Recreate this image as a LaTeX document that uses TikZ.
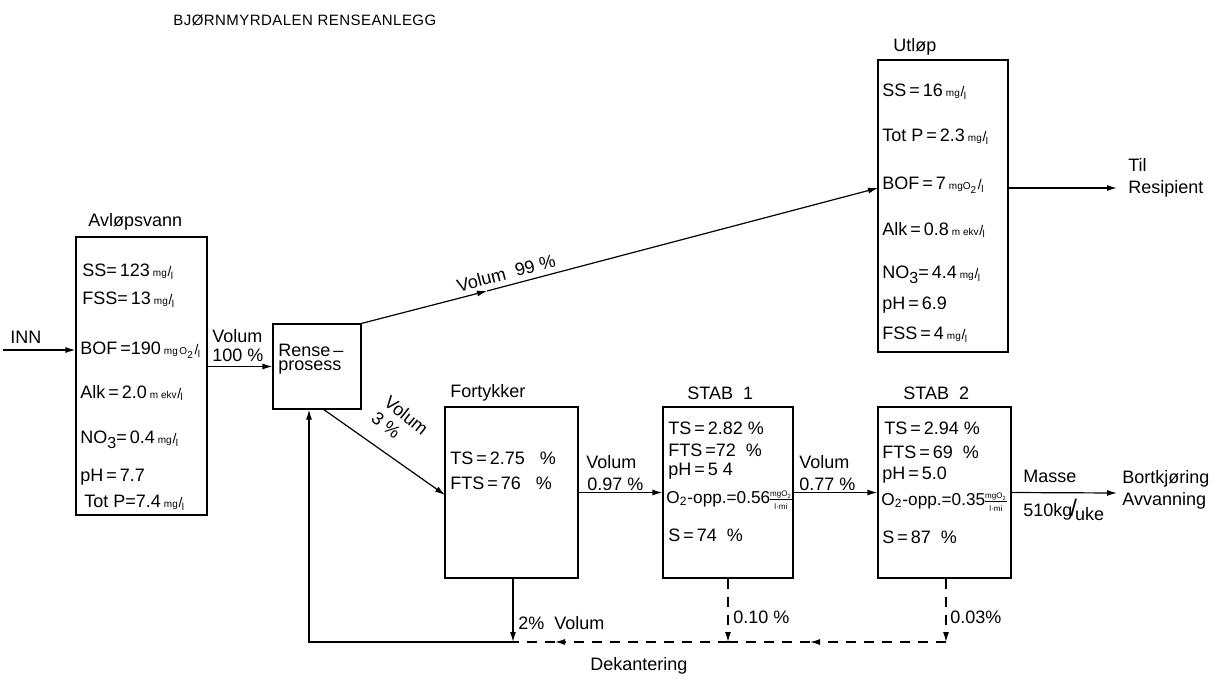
\documentclass[tikz,border=0pt]{standalone}
\usepackage{fontspec}
\setmainfont{Liberation Sans}
\usepackage{amsmath}
\usetikzlibrary{arrows.meta}
\newcommand{\unt}[1]{\,{\fontsize{5}{5}\selectfont #1}\kern0.4pt{\fontsize{7}{7}\selectfont/}\kern-0.3pt\raisebox{-1.3pt}{\fontsize{5}{5}\selectfont l}}
\newcommand{\mgmi}{{\nulldelimiterspace=0pt$\genfrac{}{}{0.3pt}{}{\text{\fontsize{4}{4}\selectfont mgO\textsubscript{2}}}{\text{\fontsize{4}{4}\selectfont l·mi}}$}}
\newcommand{\sub}[1]{\raisebox{-2.5pt}{\fontsize{8}{8}\selectfont #1}}
\begin{document}
\begin{tikzpicture}[x=0.5pt,y=-0.5pt,
  txt/.style={anchor=west, inner sep=0pt, font=\fontsize{9}{10}\selectfont},
  box/.style={draw, line width=0.6pt, inner sep=0pt},
  arr/.style={-{Latex[length=5pt,width=3pt]}, line width=0.6pt},
  dsh/.style={dash pattern=on 5pt off 4pt, line width=0.6pt}]
\useasboundingbox (0,0) rectangle (1226,691);
% title
\node[txt, font=\fontsize{7.5}{9}\selectfont\addfontfeature{LetterSpace=3}] (title) at (173,20) {BJØRNMYRDALEN RENSEANLEGG};
% boxes
\node[box, minimum width=65.5pt, minimum height=139pt] (avl) at (141.5,376) {};
\node[box, minimum width=44pt, minimum height=42.5pt] (rense) at (317,366.5) {};
\node[box, minimum width=65pt, minimum height=146pt] (utl) at (943,206) {};
\node[box, minimum width=66.5pt, minimum height=85.5pt] (fort) at (511.5,492.5) {};
\node[box, minimum width=65pt, minimum height=85.5pt] (stab1) at (728,492.5) {};
\node[box, minimum width=66.5pt, minimum height=85.5pt] (stab2) at (944.5,492.5) {};
% Avlopsvann
\node[txt] (avlL) at (88,222) {Avløpsvann};
\node[txt] (a1) at (82,272) {SS=\,123\unt{mg}};
\node[txt] (a2) at (82,300) {FSS=\,13\unt{mg}};
\node[txt] (a3) at (80,350) {BOF\,=190\unt{mg\,O\textsubscript{2}}};
\node[txt] (a4) at (80,393) {Alk\,=\,2.0\unt{m ekv}};
\node[txt] (a5) at (80,440) {NO\sub{3}=\,0.4\unt{mg}};
\node[txt] (a6) at (80,477) {pH\,=\,7.7};
\node[txt] (a7) at (84,503) {Tot P=7.4\unt{mg}};
% INN
\node[txt] (inn) at (10,337) {INN};
\coordinate (innS) at (3,350);
\draw[arr] (innS) -- (innS -| avl.west);
% Volum 100
\draw[arr] (avl.east |- rense.west) -- (rense.west);
\node[txt] (v100a) at (212,336) {Volum};
\node[txt] (v100b) at (212,355) {100 \%};
% Rense
\node[txt] (r1) at (278,350) {Rense\,–};
\node[txt] (r2) at (278,368) {prosess};
% 99 %
\coordinate (m99) at (487,291);
\coordinate (uin) at (878,188);
\draw[arr] (rense.north east) -- (m99);
\draw[arr] (m99) -- (uin);
\node[inner sep=0pt, font=\fontsize{9}{10}\selectfont, rotate=14.7] (v99) at (506,273) {Volum \ 99 \%};
% Utlop
\node[txt] (utlL) at (893,47) {Utløp};
\node[txt] (u1) at (882,92) {SS\,=\,16\unt{mg}};
\node[txt] (u2) at (882,137) {Tot P\,=\,2.3\unt{mg}};
\node[txt] (u3) at (882,185) {BOF\,=\,7\unt{mgO\textsubscript{2}}};
\node[txt] (u4) at (882,230) {Alk\,=\,0.8\unt{m ekv}};
\node[txt] (u5) at (882,275) {NO\sub{3}=\,4.4\unt{mg}};
\node[txt] (u6) at (882,305) {pH\,=\,6.9};
\node[txt] (u7) at (882,335) {FSS\,=\,4\unt{mg}};
\coordinate (res) at (1117,188);
\draw[arr] (res -| utl.east) -- (res);
\node[txt] (til) at (1128,165) {Til};
\node[txt] (resi) at (1128,189) {Resipient};
% Volum 3 %
\coordinate (r3s) at (323,409);
\coordinate (f3) at (445,495);
\draw[arr] (r3s) -- (f3);
\node[inner sep=0pt, font=\fontsize{9}{10}\selectfont, rotate=-39, align=left] (v3) at (400,423) {Volum\\3 \%};
% Fortykker
\node[txt] (fL) at (450,393) {Fortykker};
\node[txt] (f1) at (450,458) {TS\,=\,2.75 \ \ \%};
\node[txt] (f2) at (450,483) {FTS\,=\,76 \ \ \%};
\draw[arr] (fort.east) -- (stab1.west);
\node[txt] (v097a) at (586,462) {Volum};
\node[txt] (v097b) at (587,484) {0.97 \%};
% STAB 1
\node[txt] (s1L) at (687,393) {STAB \ 1};
\node[txt] (s11) at (668,428) {TS\,=\,2.82 \%};
\node[txt] (s12) at (668,450) {FTS\,=72 \ \%};
\node[txt] (s13) at (668,471) {pH\,=\,5 4};
\node[txt, font=\fontsize{8.6}{10}\selectfont] (s14) at (666,500) {O\textsubscript{2}-opp.=0.56\mgmi};
\node[txt] (s15) at (668,535) {S\,=\,74 \ \%};
\draw[arr] (stab1.east) -- (stab2.west);
\node[txt] (v077a) at (799,462) {Volum};
\node[txt] (v077b) at (799,484) {0.77 \%};
% STAB 2
\node[txt] (s2L) at (903,393) {STAB \ 2};
\node[txt] (s21) at (884,428) {TS\,=\,2.94 \%};
\node[txt] (s22) at (882,452) {FTS\,=\,69 \ \%};
\node[txt] (s23) at (882,475) {pH\,=\,5.0};
\node[txt, font=\fontsize{8.6}{10}\selectfont] (s24) at (881,502) {O\textsubscript{2}-opp.=0.35\mgmi};
\node[txt] (s25) at (882,537) {S\,=\,87 \ \%};
\coordinate (bort) at (1117,493);
\draw[arr] (stab2.east) -- (bort);
\node[txt] (mas) at (1023,476) {Masse};
\node[txt] (kg) at (1023,510) {510kg\kern-1pt{\fontsize{12}{12}\selectfont/}\kern-1pt\raisebox{-2pt}{uke}};
\node[txt] (bk) at (1122,479) {Bortkjøring};
\node[txt] (av) at (1122,501) {Avvanning};
% bottom return
\coordinate (b0) at (309,642);
\coordinate (b1) at (513,642);
\coordinate (b2) at (728,642);
\coordinate (b3) at (946,642);
\coordinate (d1) at (555,642);
\coordinate (d2) at (810,642);
\draw[arr] (b1 |- fort.south) -- (b1);
\draw[arr] (b1) -- (b0) -- (b0 |- rense.south);
\draw[arr, dsh] (b2 |- stab1.south) -- (b2);
\draw[arr, dsh] (b3 |- stab2.south) -- (b3);
\draw[arr, dsh] (b3) -- (d2);
\draw[dsh] (d2) -- (b2);
\draw[arr, dsh] (b2) -- (d1);
\draw[dsh] (d1) -- (b1);
\node[txt] (l2) at (518,623) {2\% \ Volum};
\node[txt] (l10) at (733,617) {0.10 \%};
\node[txt] (l03) at (950,617) {0.03\%};
\node[txt] (dek) at (590,666) {Dekantering};
\end{tikzpicture}
\end{document}
